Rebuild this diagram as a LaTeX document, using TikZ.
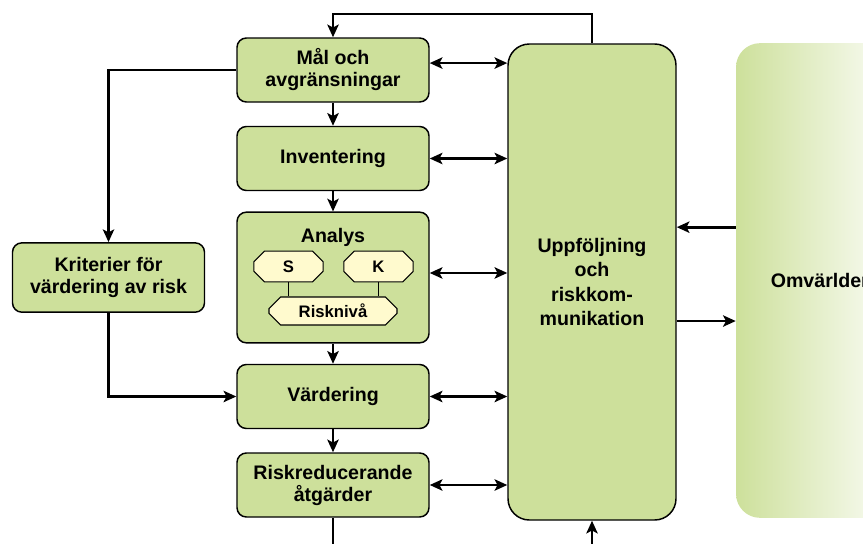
\documentclass[tikz,border=0pt]{standalone}
\usepackage{fontspec}
\setmainfont{Liberation Sans}
\usetikzlibrary{arrows.meta,shapes.misc}
\definecolor{boxgreen}{RGB}{205,224,155}
\definecolor{octyellow}{RGB}{255,250,206}

\tikzset{
  stepbox/.style={draw=black, line width=1.1pt, fill=boxgreen, rounded corners=7pt,
    minimum width=144pt, minimum height=48pt, align=center,
    font=\bfseries\fontsize{14.7}{16.5}\selectfont},
  octbox/.style={chamfered rectangle, chamfered rectangle xsep=6pt, draw=black,
    line width=0.8pt, fill=octyellow, inner sep=0pt,
    font=\bfseries\fontsize{12.5}{14}\selectfont},
  flow/.style={line width=2.1pt, ->},
  both/.style={line width=2.1pt, <->}
}

\begin{document}
\begin{tikzpicture}[x=0.75pt, y=-0.75pt, >={Stealth[length=9.5pt,width=8.5pt,inset=2.2pt]}]
\useasboundingbox (0,0) rectangle (863,543);
\clip (0,0) rectangle (863,543);
% surroundings
\node[left color=boxgreen, right color=white, rounded corners=18pt,
      minimum width=129pt, minimum height=356pt,
      font=\bfseries\fontsize{14.7}{16.5}\selectfont] (omv) at (822,280.5) {Omvärlden};
% main chain
\node[stepbox] (maal) at (333,70) {Mål och\\avgränsningar};
\node[stepbox] (inv) at (333,158.5) {Inventering};
\node[stepbox, minimum height=98pt] (anal) at (333,277.5) {};
\node[stepbox] (vard) at (333,396.5) {Värdering};
\node[stepbox] (riskred) at (333,485) {Riskreducerande\\åtgärder};
\node[stepbox, minimum height=52pt] (krit) at (108.5,277.5) {Kriterier för\\värdering av risk};
\node[stepbox, rounded corners=16pt, minimum width=126pt, minimum height=357pt,
      font=\bfseries\fontsize{14.7}{18.3}\selectfont] (uppf) at (592,282)
      {Uppföljning\\och\\riskkom-\\munikation};
% inside analys
\node[font=\bfseries\fontsize{14.7}{16.5}\selectfont] (analt) at (333,237) {Analys};
\node[octbox, minimum width=52pt, minimum height=23pt] (s) at (288.5,266.5) {S};
\node[octbox, minimum width=52pt, minimum height=23pt] (k) at (378.5,266.5) {K};
\node[octbox, minimum width=96pt, minimum height=21pt] (rn) at (333,311) {Risknivå};
\draw[line width=0.6pt] (s.south) -- (s.south |- rn.north)
                        (k.south) -- (k.south |- rn.north);
% arrows
\coordinate (loop) at (592,14);
\coordinate (rbot) at (333,550);
\coordinate (ubot) at (592,550);
\draw[flow] (uppf.north) -- (loop) -| (maal.north);
\draw[flow] (maal.south) -- (inv.north);
\draw[flow] (inv.south) -- (anal.north);
\draw[flow] (anal.south) -- (vard.north);
\draw[flow] (vard.south) -- (riskred.north);
\draw[line width=2.1pt] (riskred.south) -- (rbot);
\draw[flow] (ubot) -- (uppf.south);
\draw[flow] (maal.west) -| (krit.north);
\draw[flow] (krit.south) |- (vard.west);
\draw[both] ([yshift=5.2pt]maal.east) -- ([yshift=5.2pt]maal.east -| uppf.west);
\draw[both] (inv.east) -- (inv.east -| uppf.west);
\draw[both] ([yshift=3.4pt]anal.east) -- ([yshift=3.4pt]anal.east -| uppf.west);
\draw[both] (vard.east) -- (vard.east -| uppf.west);
\draw[both] (riskred.east) -- (riskred.east -| uppf.west);
\draw[flow] ([yshift=40pt]omv.west) -- ([yshift=40pt]omv.west -| uppf.east);
\draw[flow] ([yshift=-30.4pt]omv.west -| uppf.east) -- ([yshift=-30.4pt]omv.west);
\end{tikzpicture}
\end{document}
